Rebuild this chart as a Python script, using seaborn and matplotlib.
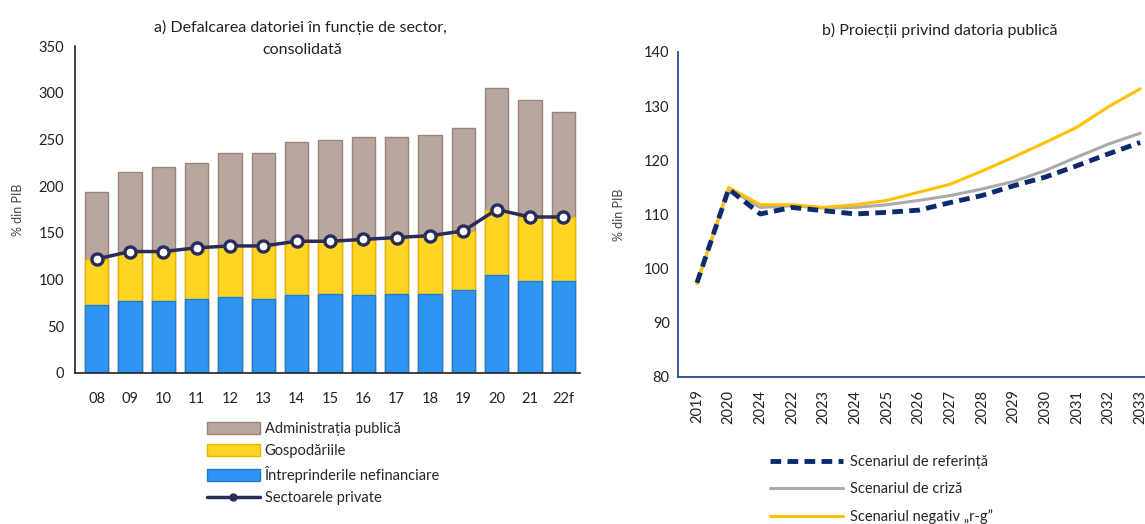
import matplotlib
matplotlib.use("Agg")
import matplotlib.pyplot as plt
import matplotlib.patches as mpatches
from matplotlib.lines import Line2D
import numpy as np
import pandas as pd
import seaborn as sns

# panel a) debt by sector, % of GDP
years_a = ["08", "09", "10", "11", "12", "13", "14", "15", "16", "17", "18", "19", "20", "21", "22f"]
nonfin = [73, 77, 77, 79, 81, 79, 83, 85, 83, 85, 85, 89, 105, 98, 98]
private = [122, 130, 130, 134, 136, 136, 141, 141, 143, 145, 147, 152, 175, 167, 167]
total = [194, 215, 221, 225, 236, 236, 247, 249, 253, 253, 255, 262, 305, 292, 279]

# panel b) public debt projections
years_b = ["2019", "2020", "2024", "2022", "2023", "2024", "2025", "2026", "2027",
           "2028", "2029", "2030", "2031", "2032", "2033"]
ref = [97.4, 114.7, 110.1, 111.3, 110.7, 110.1, 110.4, 110.8, 112.2, 113.5, 115.3, 116.9, 119.0, 121.2, 123.3]
crisis = [97.4, 114.7, 111.3, 111.6, 111.2, 111.3, 111.8, 112.6, 113.5, 114.7, 116.1, 118.1, 120.6, 123.0, 125.0]
neg_rg = [97.2, 115.0, 111.8, 111.8, 111.3, 111.8, 112.6, 114.1, 115.6, 118.0, 120.6, 123.3, 126.1, 129.9, 133.2]

sns.set_style("white")
plt.rcParams["font.family"] = ["Lato", "DejaVu Sans"]

W, H = 1145, 524
fig = plt.figure(figsize=(W / 100, H / 100), dpi=100)

c_admin, e_admin = "#B7A79E", "#9A8479"
c_hh, e_hh = "#FFD422", "#E3B600"
c_nf, e_nf = "#2E96F2", "#1D7CDA"
c_line = "#2A2C5C"

# ---- panel a
ax1 = fig.add_axes([75 / W, 1 - 373 / H, 505 / W, 327 / H])
df_a = pd.DataFrame({"an": years_a, "nf": nonfin, "priv": private, "tot": total})
sns.barplot(data=df_a, x="an", y="tot", color=c_admin, edgecolor=e_admin, linewidth=1,
            width=0.7, saturation=1, ax=ax1)
sns.barplot(data=df_a, x="an", y="priv", color=c_hh, edgecolor=e_hh, linewidth=1,
            width=0.7, saturation=1, ax=ax1)
sns.barplot(data=df_a, x="an", y="nf", color=c_nf, edgecolor=e_nf, linewidth=1,
            width=0.7, saturation=1, ax=ax1)
sns.pointplot(data=df_a, x="an", y="priv", color=c_line, marker="o", markersize=8,
              markerfacecolor="white", markeredgecolor=c_line, markeredgewidth=2.4,
              linewidth=2.5, ax=ax1)
ax1.set_ylim(0, 350)
ax1.set_xlim(-0.65, 14.5)
ax1.set_yticks(np.arange(0, 351, 50))
ax1.set_xlabel("")
ax1.set_ylabel("% din PIB", fontsize=9, color="#444444", labelpad=10)
ax1.tick_params(axis="both", length=0, labelsize=10.5, colors="#222222", pad=8)
ax1.tick_params(axis="x", pad=14)
for s in ["top", "right"]:
    ax1.spines[s].set_visible(False)
for s in ["left", "bottom"]:
    ax1.spines[s].set_color("#222222")
    ax1.spines[s].set_linewidth(1.2)
fig.text(300 / W, 1 - 27 / H, "a) Defalcarea datoriei în funcție de sector,",
         ha="center", va="center", fontsize=11.5, color="#222222")
fig.text(302 / W, 1 - 50 / H, "consolidată",
         ha="center", va="center", fontsize=11.5, color="#222222")

hand_a = [
    mpatches.Patch(facecolor=c_admin, edgecolor=e_admin, label="Administrația publică"),
    mpatches.Patch(facecolor=c_hh, edgecolor=e_hh, label="Gospodăriile"),
    mpatches.Patch(facecolor=c_nf, edgecolor=e_nf, label="Întreprinderile nefinanciare"),
    Line2D([0], [0], color=c_line, lw=2.5, marker="o", markersize=5,
           markerfacecolor=c_line, label="Sectoarele private"),
]
fig.legend(handles=hand_a, loc="upper left", bbox_to_anchor=(207 / W, 1 - 422 / H),
           frameon=False, fontsize=10.5, handlelength=3.6, handleheight=0.9,
           handletextpad=0.35, labelspacing=0.55, borderpad=0, borderaxespad=0)

# ---- panel b
ax2 = fig.add_axes([678 / W, 1 - 377 / H, 478 / W, 325 / H])
xb = np.arange(len(years_b))
df_b = pd.DataFrame({"x": xb, "ref": ref, "crisis": crisis, "neg": neg_rg})
sns.lineplot(data=df_b, x="x", y="crisis", color="#ABABAB", linewidth=2.2, ax=ax2,
             label="Scenariul de criză")
sns.lineplot(data=df_b, x="x", y="neg", color="#FFC000", linewidth=2.2, ax=ax2,
             label="Scenariul negativ „r-g”")
sns.lineplot(data=df_b, x="x", y="ref", color="#0D2A6E", linewidth=3.5, ax=ax2,
             label="Scenariul de referință")
ax2.lines[-1].set_linestyle((0, (2.2, 1.3)))
ax2.set_ylim(80, 140)
ax2.set_xlim(-0.6, 14.5)
ax2.set_xticks(xb)
ax2.set_xticklabels(years_b, rotation=90)
ax2.set_xlabel("")
ax2.set_ylabel("% din PIB", fontsize=9, color="#444444", labelpad=14)
ax2.tick_params(axis="both", length=0, labelsize=10.5, colors="#222222", pad=6)
ax2.tick_params(axis="x", pad=9)
for s in ["top", "right"]:
    ax2.spines[s].set_visible(False)
for s in ["left", "bottom"]:
    ax2.spines[s].set_color("#2B4A8C")
    ax2.spines[s].set_linewidth(1.3)
ax2.get_legend().remove()
fig.text(940 / W, 1 - 30 / H, "b) Proiecții privind datoria publică",
         ha="center", va="center", fontsize=11.5, color="#222222")

hand_b = [
    Line2D([0], [0], color="#0D2A6E", lw=3.5, linestyle=(0, (2.2, 1.3)),
           label="Scenariul de referință"),
    Line2D([0], [0], color="#ABABAB", lw=2.2, label="Scenariul de criză"),
    Line2D([0], [0], color="#FFC000", lw=2.2, label="Scenariul negativ „r-g”"),
]
fig.legend(handles=hand_b, loc="upper left", bbox_to_anchor=(770 / W, 1 - 455 / H),
           frameon=False, fontsize=10.5, handlelength=5.0,
           handletextpad=0.5, labelspacing=0.9, borderpad=0, borderaxespad=0)

fig.savefig("out.png", dpi=100)
